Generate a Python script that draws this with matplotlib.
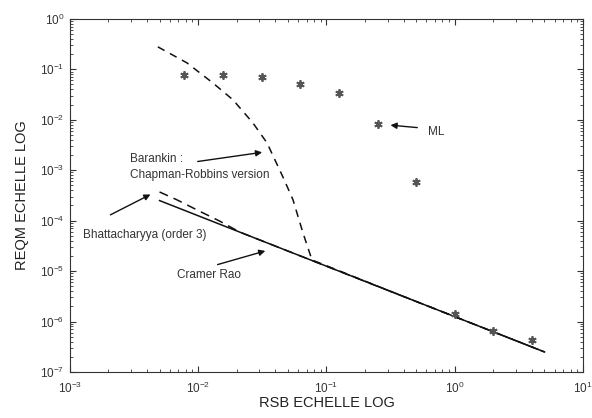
import matplotlib.pyplot as plt
from matplotlib.ticker import LogLocator

plt.rcParams["font.family"] = ["Liberation Sans", "DejaVu Sans"]
plt.rcParams["mathtext.fontset"] = "custom"
plt.rcParams["mathtext.rm"] = "Liberation Sans"
plt.rcParams["mathtext.default"] = "regular"

# ML estimator (stars)
ml_snr = [0.0078, 0.0156, 0.0312, 0.0625, 0.125, 0.25, 0.5, 1.0, 2.0, 4.0]
ml_mse = [0.077, 0.077, 0.07, 0.051, 0.034, 0.0083, 5.8e-4, 1.4e-6, 6.5e-7, 4.3e-7]

# Cramer Rao bound (straight line in log-log)
crb_snr = [0.005, 5.0]
crb_mse = [2.5e-4, 2.5e-7]

# Bhattacharyya bound (order 3)
bh_snr = [0.005, 0.0068, 0.0097, 0.0147, 0.0212, 0.05, 0.5, 5.0]
bh_mse = [3.7e-4, 2.6e-4, 1.65e-4, 9.8e-5, 5.9e-5, 2.5e-5, 2.5e-6, 2.5e-7]

# Barankin bound (Chapman-Robbins version)
bar_snr = [0.00485, 0.00817, 0.013, 0.0187, 0.0267, 0.0344, 0.0458, 0.0548,
           0.0656, 0.0771, 0.5, 5.0]
bar_mse = [0.278, 0.134, 0.0537, 0.0247, 0.00865, 0.00347, 7.3e-4, 2.6e-4,
           5.7e-5, 1.66e-5, 2.5e-6, 2.5e-7]

fig = plt.figure(figsize=(5.92, 4.18), dpi=100)
ax = fig.add_axes([0.118, 0.110, 0.867, 0.845])

ax.plot(crb_snr, crb_mse, color="#111111", lw=1.1)
ax.plot(bh_snr, bh_mse, color="#111111", lw=1.1, linestyle=(0, (6, 4)))
ax.plot(bar_snr, bar_mse, color="#111111", lw=1.1, linestyle=(0, (5, 4)))
ax.plot(ml_snr, ml_mse, linestyle="none", marker=(6, 2, 0), markersize=6,
        color="#555555", markeredgewidth=1.3)

ax.set_xscale("log")
ax.set_yscale("log")
ax.set_xlim(1e-3, 1e1)
ax.set_ylim(1e-7, 1e0)
ax.xaxis.set_major_locator(LogLocator(base=10, numticks=10))
ax.yaxis.set_major_locator(LogLocator(base=10, numticks=10))
ax.xaxis.set_minor_locator(LogLocator(base=10, subs=range(2, 10), numticks=20))
ax.yaxis.set_minor_locator(LogLocator(base=10, subs=range(2, 10), numticks=20))

ax.tick_params(which="both", direction="in", top=True, right=True,
               colors="#333333", labelcolor="#333333")
ax.tick_params(which="major", length=4, labelsize=8.5)
ax.tick_params(axis="x", which="major", pad=6)
ax.tick_params(axis="y", which="major", pad=4)
ax.tick_params(which="minor", length=2)
for s in ax.spines.values():
    s.set_color("#333333")

ax.set_xlabel("RSB ECHELLE LOG", fontsize=10.5, color="#222222", labelpad=0)
ax.set_ylabel("REQM ECHELLE LOG", fontsize=10.5, color="#222222", labelpad=8)

txt = dict(fontsize=8.5, color="#333333", va="center", ha="left")
arrow = dict(arrowstyle="-|>", color="#111111", lw=1.0, mutation_scale=9)

ax.text(0.62, 0.0057, "ML", **txt)
ax.annotate("", xy=(0.30, 0.0079), xytext=(0.536, 0.0069), arrowprops=arrow)

ax.text(0.00294, 1.15e-3, "Barankin :\nChapman-Robbins version", linespacing=1.5, **txt)
ax.annotate("", xy=(0.0331, 2.3e-3), xytext=(0.00944, 1.46e-3), arrowprops=arrow)

ax.text(0.00126, 5.2e-5, "Bhattacharyya (order 3)", **txt)
ax.annotate("", xy=(0.00444, 3.5e-4), xytext=(0.00198, 1.23e-4), arrowprops=arrow)

ax.text(0.00682, 8.3e-6, "Cramer Rao", **txt)
ax.annotate("", xy=(0.035, 2.6e-5), xytext=(0.0135, 1.3e-5), arrowprops=arrow)

fig.savefig("out.png", dpi=100)
